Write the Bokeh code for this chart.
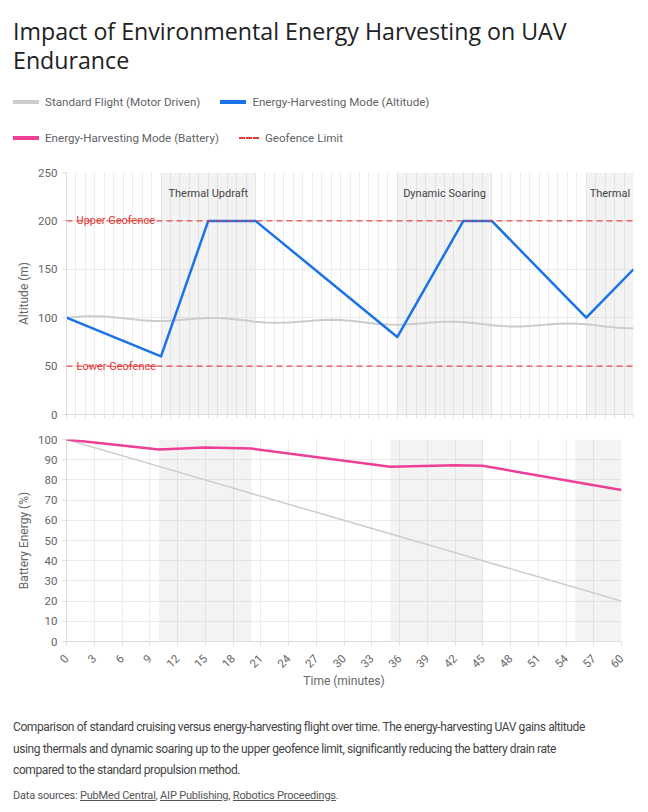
import math
from bokeh.plotting import figure
from bokeh.models import (Range1d, FixedTicker, BoxAnnotation, Span, Label, Div,
                          ColumnDataSource, CustomJSTickFormatter)
from bokeh.layouts import column
from bokeh.embed import file_html
from bokeh.resources import INLINE
from bokeh.core.properties import value

# ---------------- data ----------------
title = "Impact of Environmental Energy Harvesting on UAV Endurance"
series_names = ["Standard Flight (Motor Driven)", "Energy-Harvesting Mode (Altitude)",
                "Energy-Harvesting Mode (Battery)", "Geofence Limit"]

minutes = list(range(0, 61))
alt_standard = [100.0, 100.8, 101.4, 101.5, 101.2, 100.5, 99.4, 98.3, 97.3, 96.7,
                96.6, 96.9, 97.6, 98.5, 99.2, 99.6, 99.6, 99.1, 98.1, 97.0,
                95.9, 95.1, 94.7, 94.8, 95.3, 96.1, 96.9, 97.6, 97.8, 97.5,
                96.8, 95.8, 94.6, 93.6, 93.0, 92.8, 93.1, 93.8, 94.6, 95.4,
                95.8, 95.8, 95.4, 94.5, 93.4, 92.3, 91.4, 91.0, 91.0, 91.5,
                92.2, 93.1, 93.7, 94.0, 93.8, 93.2, 92.1, 91.0, 90.0, 89.3, 89.0]

key_minutes = [0, 10, 15, 20, 35, 42, 45, 55, 60]
alt_harvest = [100, 60, 200, 200, 80, 200, 200, 100, 150]
battery_standard = [100, 86.7, 80, 73.3, 53.3, 44, 40, 26.7, 20]
battery_harvest = [100, 95, 96, 95.5, 86.5, 87.3, 87, 79, 75]

region_names = ["Thermal Updraft", "Dynamic Soaring", "Thermal"]
region_starts = [10, 35, 55]
region_ends = [20, 45, 60]

geofence_values = [200, 50]
geofence_labels = ["Upper Geofence", "Lower Geofence"]

alt_ticks = [0, 50, 100, 150, 200, 250]
battery_ticks = [0, 10, 20, 30, 40, 50, 60, 70, 80, 90, 100]
time_ticks = list(range(0, 61, 3))

x_label = "Time (minutes)"
y1_label = "Altitude (m)"
y2_label = "Battery Energy (%)"

caption_lines = ["Comparison of standard cruising versus energy-harvesting flight over time. "
                 "The energy-harvesting UAV gains altitude",
                 "using thermals and dynamic soaring up to the upper geofence limit, "
                 "significantly reducing the battery drain rate",
                 "compared to the standard propulsion method."]
sources = ["PubMed Central", "AIP Publishing", "Robotics Proceedings"]

# ---------------- styles ----------------
FONT = "Roboto"
TITLE_FONT = "Open Sans"
C_STD = "#cccccc"
C_BLUE = "#1a73e8"
C_PINK = "#ee3f97"
C_RED = "#e53935"
C_GRID = "#ececec"
C_AXIS = "#dddddd"
C_TICKTXT = "#666666"
W = 639


def style(p, yticks, ylabel):
    p.outline_line_color = None
    p.background_fill_color = "white"
    p.border_fill_color = "white"
    for ax in p.axis:
        ax.axis_line_color = C_AXIS
        ax.major_tick_line_color = C_AXIS
        ax.minor_tick_line_color = None
        ax.major_tick_out = 4
        ax.major_tick_in = 0
        ax.major_label_text_font = FONT
        ax.major_label_text_font_size = "11.5px"
        ax.major_label_text_color = C_TICKTXT
        ax.axis_label_text_font = FONT
        ax.axis_label_text_font_size = "12px"
        ax.axis_label_text_font_style = "normal"
        ax.axis_label_text_color = C_TICKTXT
    p.yaxis.ticker = FixedTicker(ticks=yticks)
    p.yaxis.axis_label = ylabel
    p.yaxis.axis_label_standoff = 4
    p.ygrid.ticker = FixedTicker(ticks=yticks)
    p.xgrid.grid_line_color = C_GRID
    p.ygrid.grid_line_color = C_GRID


# ---------------- header ----------------
def swatch(color, dashed=False, first=False):
    ml = "0" if first else "20px"
    if dashed:
        return (f'<span style="display:inline-block;width:20px;height:0;border-top:2px dashed {color};'
                f'margin:0 6px 0 {ml};"></span>')
    return (f'<span style="display:inline-block;width:26px;height:4px;background:{color};'
            f'margin:0 6px 0 {ml};"></span>')

t_words = title.split(" ")
title_html = " ".join(t_words[:-1]) + "<br>" + t_words[-1]
header_html = f"""
<div style="font-family:{FONT},sans-serif;padding-left:8px;width:620px;">
  <div style="font-family:'{TITLE_FONT}',sans-serif;font-size:23.2px;line-height:29px;color:#202124;margin-top:12px;white-space:nowrap;">{title_html}</div>
  <div style="margin-top:9px;font-size:11.6px;color:#5f6368;">
    <div style="height:36px;display:flex;align-items:center;white-space:nowrap;">
      {swatch(C_STD, first=True)}<span>{series_names[0]}</span>
      {swatch(C_BLUE)}<span>{series_names[1]}</span>
    </div>
    <div style="height:36px;display:flex;align-items:center;white-space:nowrap;">
      {swatch(C_PINK, first=True)}<span>{series_names[2]}</span>
      {swatch(C_RED, dashed=True)}<span>{series_names[3]}</span>
    </div>
  </div>
</div>
"""
header = Div(text=header_html, width=W, height=152)

# ---------------- altitude chart ----------------
p1 = figure(frame_width=567, frame_height=242, x_range=Range1d(0, 60), y_range=Range1d(0, 250),
            output_backend="svg", toolbar_location=None,
            min_border_left=66, min_border_right=6, min_border_top=10, min_border_bottom=10)
style(p1, alt_ticks, y1_label)
p1.xaxis.ticker = FixedTicker(ticks=minutes)
p1.xgrid.ticker = FixedTicker(ticks=minutes)
p1.xaxis.formatter = CustomJSTickFormatter(code="return ''")
p1.xaxis.major_label_standoff = 0

for s, e in zip(region_starts, region_ends):
    p1.add_layout(BoxAnnotation(left=s, right=e, fill_color="#888888", fill_alpha=0.1,
                                line_color=None, level="underlay"))

reg_src = ColumnDataSource(dict(x=[(s + e) / 2 for s, e in zip(region_starts, region_ends)],
                                y=[228] * len(region_names), t=region_names))
p1.text(x="x", y="y", text="t", source=reg_src, text_align="center", text_baseline="middle",
        text_font=value(FONT), text_font_size="11px", text_color="#444444")

for v, lab in zip(geofence_values, geofence_labels):
    p1.add_layout(Span(location=v, dimension="width", line_color=C_RED, line_width=1.4,
                       line_dash="6 4", line_alpha=0.9))
    p1.add_layout(Label(x=0, y=v, x_offset=10, text=lab, text_baseline="middle",
                        text_font=FONT, text_font_size="11px", text_color=C_RED))

p1.line(minutes, alt_standard, line_color=C_STD, line_width=2, line_join="round")
p1.line(key_minutes, alt_harvest, line_color=C_BLUE, line_width=2.5, line_join="round")

# ---------------- battery chart ----------------
p2 = figure(frame_width=555, frame_height=202, x_range=Range1d(0, 60), y_range=Range1d(0, 100),
            output_backend="svg", toolbar_location=None,
            min_border_left=66, min_border_right=18, min_border_top=15, min_border_bottom=20)
style(p2, battery_ticks, y2_label)
p2.xaxis.ticker = FixedTicker(ticks=time_ticks)
p2.xgrid.ticker = FixedTicker(ticks=time_ticks)
p2.xaxis.major_label_orientation = math.pi / 4
p2.xaxis.major_label_standoff = 11
p2.xaxis.axis_label = x_label
p2.xaxis.axis_label_standoff = 0

for s, e in zip(region_starts, region_ends):
    p2.add_layout(BoxAnnotation(left=s, right=e, fill_color="#888888", fill_alpha=0.1,
                                line_color=None, level="underlay"))

p2.line(key_minutes, battery_standard, line_color=C_STD, line_width=1.5, line_join="round")
p2.line(key_minutes, battery_harvest, line_color=C_PINK, line_width=2.5, line_join="round")

# ---------------- caption ----------------
links = ", ".join(f'<span style="text-decoration:underline;">{s}</span>' for s in sources)
caption_html = f"""
<div style="font-family:{FONT},sans-serif;padding-left:8px;width:625px;">
  <div style="font-size:12px;letter-spacing:-0.4px;line-height:21.5px;color:#444;margin-top:21px;white-space:nowrap;">{'<br>'.join(caption_lines)}</div>
  <div style="font-size:11px;line-height:16px;color:#555;margin-top:6px;letter-spacing:-0.2px;">Data sources: {links}.</div>
</div>
"""
cap = Div(text=caption_html, width=W, height=108)

layout = column(header, p1, p2, cap)
open("out.html", "w").write(file_html(layout, INLINE))
